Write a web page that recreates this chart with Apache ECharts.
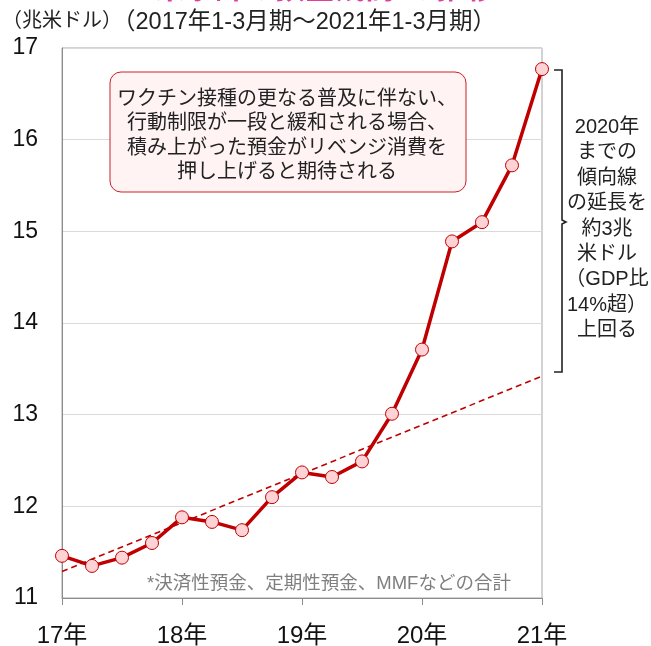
<!DOCTYPE html>
<html>
<head>
<meta charset="utf-8">
<script src="https://cdn.jsdelivr.net/npm/echarts@6/dist/echarts.min.js"></script>
<style>
html,body{margin:0;padding:0;background:#fff;}
#c{width:651px;height:646px;}
</style>
</head>
<body>
<div id="c"></div>
<script>
// quarters 2017Q1 .. 2021Q1 ; year labels shown at Q1
var categories = ['17年','17Q2','17Q3','17Q4','18年','18Q2','18Q3','18Q4','19年','19Q2','19Q3','19Q4','20年','20Q2','20Q3','20Q4','21年'];
// deposits (trillion USD)
var deposits = [11.46, 11.35, 11.44, 11.60, 11.88, 11.83, 11.74, 12.10, 12.37, 12.32, 12.49, 13.01, 13.71, 14.89, 15.10, 15.72, 16.77];
// trend line (extension of pre-2020 trend): start and end values
var trendEnds = [11.29, 13.42];
var yTicks = [11, 12, 13, 14, 15, 16, 17];

var trend = categories.map(function (c, i) {
  if (i === 0) return trendEnds[0];
  if (i === categories.length - 1) return trendEnds[1];
  return null;
});

var FONT = "'Liberation Sans', 'Noto Sans CJK JP', sans-serif";
var chart = echarts.init(document.getElementById('c'), null, {renderer: 'canvas'});

var boxLines = ['ワクチン接種の更なる普及に伴ない、', '行動制限が一段と緩和される場合、', '積み上がった預金がリベンジ消費を', '押し上げると期待される'];
var sideLines = ['2020年', 'までの', '傾向線', 'の延長を', '約3兆', '米ドル', '（GDP比', '14%超）', '上回る'];

chart.setOption({
  animation: false,
  backgroundColor: '#fff',
  textStyle: {fontFamily: FONT},
  grid: {left: 62, right: 109, top: 48, bottom: 48, containLabel: false, outerBoundsMode: 'none', show: true, borderColor: '#a6a6a6', borderWidth: 1, backgroundColor: 'transparent'},
  xAxis: {
    type: 'category',
    data: categories,
    boundaryGap: false,
    axisLine: {lineStyle: {color: '#8c8c8c', width: 1}},
    axisTick: {show: true, interval: 3, length: 7, inside: false, lineStyle: {color: '#8c8c8c'}},
    axisLabel: {interval: 3, color: '#111', fontSize: 24, margin: 26, fontFamily: FONT},
    splitLine: {show: false}
  },
  yAxis: {
    type: 'value',
    min: yTicks[0], max: yTicks[yTicks.length - 1], interval: 1,
    axisLine: {show: true, lineStyle: {color: '#8c8c8c'}},
    axisTick: {show: false},
    axisLabel: {color: '#111', fontSize: 23, margin: 24, fontFamily: FONT},
    splitLine: {show: true, lineStyle: {color: '#dadada', width: 1}}
  },
  series: [
    {
      type: 'line',
      data: trend,
      connectNulls: true,
      symbol: 'none',
      lineStyle: {color: '#c00000', width: 1.6, type: [6, 4]},
      z: 2
    },
    {
      type: 'line',
      data: deposits,
      symbol: 'circle',
      symbolSize: 13,
      lineStyle: {color: '#c00000', width: 3.5},
      itemStyle: {color: '#ffd3d6', borderColor: '#c00000', borderWidth: 1},
      z: 3
    }
  ],
  graphic: [
    {type: 'text', left: 'center', top: -25, style: {text: '米家計の預金残高*の推移', fontSize: 30, fontWeight: 'bold', fill: '#e23c9c', fontFamily: FONT}},
    {type: 'text', x: 2, y: 21, style: {text: '（兆米ドル）', fontSize: 20, fill: '#222', verticalAlign: 'middle', fontFamily: FONT}},
    {type: 'text', x: 112, y: 23, style: {text: '（2017年1-3月期～2021年1-3月期）', fontSize: 23.5, fill: '#222', verticalAlign: 'middle', fontFamily: FONT}},
    {type: 'rect', shape: {x: 110, y: 72, width: 356, height: 120, r: 11}, style: {fill: '#fff3f4', stroke: '#c8202a', lineWidth: 1}, z: 10},
    {type: 'text', x: 287, y: 136, z: 11, style: {text: boxLines.join('\n'), fontSize: 20, lineHeight: 24.2, fill: '#222', align: 'center', verticalAlign: 'middle', fontFamily: FONT}},
    {type: 'polyline', shape: {points: [[554, 70], [562, 70], [562, 220], [566, 222], [562, 224], [562, 372], [554, 372]]}, style: {stroke: '#222', lineWidth: 1.6, fill: null}, z: 10},
    {type: 'text', x: 607, y: 229, z: 11, style: {text: sideLines.join('\n'), fontSize: 20, lineHeight: 25.4, fill: '#222', align: 'center', verticalAlign: 'middle', fontFamily: FONT}},
    {type: 'text', x: 329, y: 584, z: 11, style: {text: '*決済性預金、定期性預金、MMFなどの合計', fontSize: 18.5, fill: '#7f7f7f', align: 'center', verticalAlign: 'middle', fontFamily: FONT}}
  ]
});
</script>
</body>
</html>
